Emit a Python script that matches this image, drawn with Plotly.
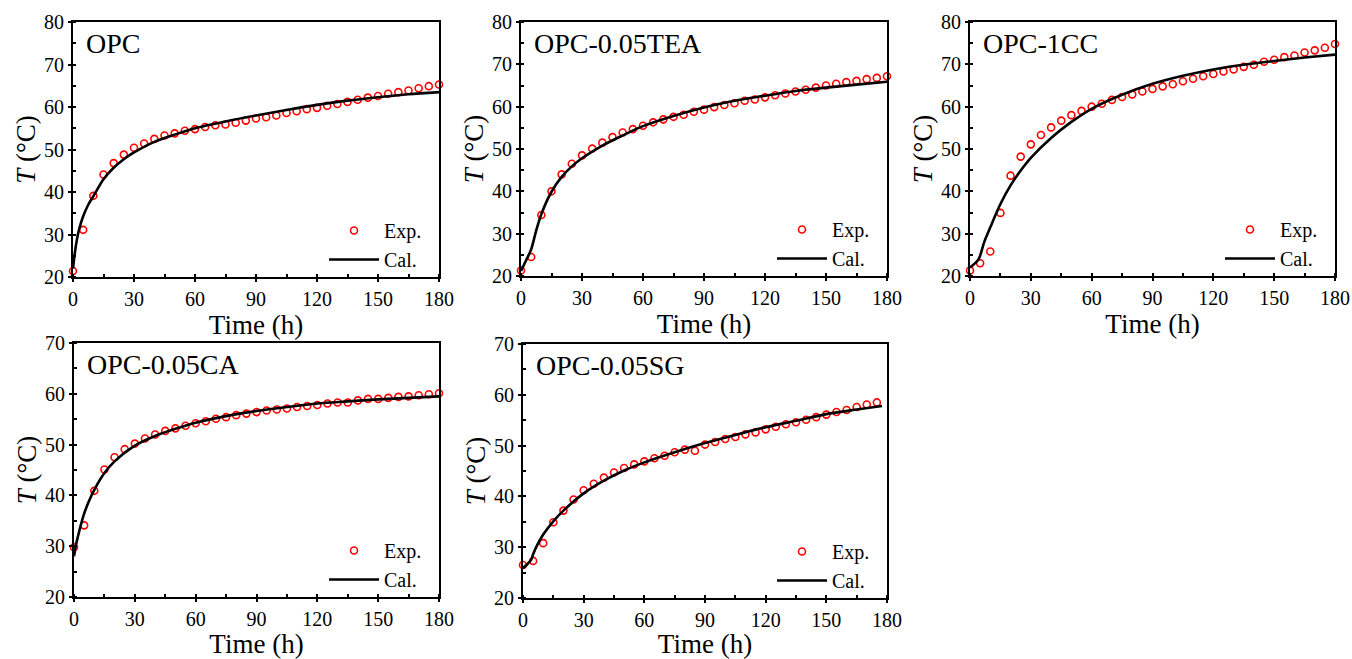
import plotly.graph_objects as go

# ---------------- data ----------------
t_exp = [0, 5, 10, 15, 20, 25, 30, 35, 40, 45, 50, 55, 60, 65, 70, 75, 80, 85, 90,
         95, 100, 105, 110, 115, 120, 125, 130, 135, 140, 145, 150, 155, 160, 165,
         170, 175, 180]
t_exp_sg = [0, 5, 10, 15, 20, 25, 30, 35, 40, 45, 50, 55, 60, 65, 70, 75, 80, 85, 90,
            95, 100, 105, 110, 115, 120, 125, 130, 135, 140, 145, 150, 155, 160, 165,
            170, 175]

opc_exp = [21.4, 31.1, 39.1, 44.1, 46.8, 48.8, 50.4, 51.4, 52.5, 53.3, 53.8, 54.4, 54.8,
           55.3, 55.7, 55.9, 56.3, 56.8, 57.3, 57.6, 58.0, 58.6, 59.0, 59.5, 59.8, 60.3,
           60.7, 61.2, 61.7, 62.2, 62.6, 63.1, 63.5, 63.9, 64.4, 64.9, 65.3]
tea_exp = [21.3, 24.5, 34.4, 40.0, 44.0, 46.5, 48.5, 50.1, 51.5, 52.8, 53.9, 54.7, 55.5,
           56.3, 57.0, 57.6, 58.1, 58.8, 59.3, 59.9, 60.4, 60.8, 61.4, 61.7, 62.2, 62.7,
           63.1, 63.6, 64.0, 64.5, 65.0, 65.4, 65.8, 66.1, 66.5, 66.8, 67.2]
cc_exp = [21.3, 23.0, 25.8, 34.9, 43.7, 48.2, 51.1, 53.3, 55.1, 56.7, 58.0, 59.0, 60.0,
          60.7, 61.6, 62.3, 62.9, 63.6, 64.2, 64.8, 65.3, 66.0, 66.6, 67.2, 67.7, 68.3,
          68.8, 69.4, 69.9, 70.6, 71.1, 71.7, 72.1, 72.8, 73.3, 73.9, 74.8]
ca_exp = [29.8, 34.1, 40.9, 45.1, 47.5, 49.1, 50.2, 51.2, 52.0, 52.7, 53.2, 53.7, 54.2,
          54.6, 55.1, 55.4, 55.8, 56.1, 56.4, 56.7, 56.9, 57.1, 57.4, 57.6, 57.8, 58.1,
          58.3, 58.3, 58.7, 59.0, 59.0, 59.2, 59.4, 59.5, 59.7, 59.9, 60.1]
sg_exp = [26.5, 27.3, 30.8, 34.9, 37.2, 39.4, 41.2, 42.5, 43.7, 44.7, 45.6, 46.3, 46.9,
          47.5, 48.0, 48.7, 49.2, 49.0, 50.2, 50.7, 51.3, 51.7, 52.2, 52.6, 53.2, 53.7,
          54.2, 54.6, 55.1, 55.6, 56.1, 56.6, 57.0, 57.6, 58.1, 58.5]

opc_cal_t = [0, 1, 2, 3, 5, 7.5, 10, 15, 20, 25, 30, 40, 50, 60, 75, 90, 105, 120, 135, 150, 165, 180]
opc_cal = [22.0, 26.0, 29.0, 31.2, 34.3, 37.0, 39.0, 43.0, 45.7, 47.7, 49.3, 51.8, 53.5,
           55.0, 56.6, 58.0, 59.3, 60.5, 61.5, 62.3, 63.0, 63.5]
tea_cal_t = [0, 2, 5, 7.5, 10, 15, 20, 25, 30, 40, 50, 60, 75, 90, 105, 120, 135, 150, 165, 180]
tea_cal = [21.2, 23.2, 26.3, 30.8, 34.6, 39.9, 43.4, 45.9, 47.8, 50.8, 53.2, 55.4, 57.8,
           59.8, 61.4, 62.6, 63.7, 64.5, 65.2, 65.9]
cc_cal_t = [0, 2, 4, 5, 7, 10, 15, 20, 25, 30, 40, 50, 60, 75, 90, 105, 120, 135, 150, 165, 180]
cc_cal = [22.0, 22.8, 23.8, 24.8, 28.0, 31.5, 37.0, 41.4, 44.9, 47.9, 52.6, 56.4, 59.5,
          62.8, 65.4, 67.3, 68.8, 69.9, 70.8, 71.6, 72.3]
ca_cal_t = [0, 1, 2, 3, 5, 7.5, 10, 15, 20, 30, 40, 50, 60, 75, 90, 105, 120, 135, 150, 165, 180]
ca_cal = [28.0, 30.3, 32.0, 33.6, 36.4, 39.0, 41.1, 44.4, 46.7, 49.8, 51.7, 53.1, 54.3,
          55.6, 56.6, 57.4, 58.1, 58.5, 58.9, 59.2, 59.5]
sg_cal_t = [0, 2, 4, 5, 7, 10, 15, 20, 30, 40, 50, 60, 75, 90, 105, 120, 135, 150, 165, 177.5]
sg_cal = [25.9, 26.6, 27.5, 28.6, 30.4, 32.5, 35.1, 37.2, 40.6, 43.1, 45.1, 46.7, 48.7,
          50.5, 52.1, 53.6, 54.9, 56.2, 57.1, 57.8]

panel_names = ["OPC", "OPC-0.05TEA", "OPC-1CC", "OPC-0.05CA", "OPC-0.05SG"]
x_ticks = [0, 30, 60, 90, 120, 150, 180]
y_ranges = [[20, 80], [20, 80], [20, 80], [20, 70], [20, 70]]

series = [
    (t_exp, opc_exp, opc_cal_t, opc_cal),
    (t_exp, tea_exp, tea_cal_t, tea_cal),
    (t_exp, cc_exp, cc_cal_t, cc_cal),
    (t_exp, ca_exp, ca_cal_t, ca_cal),
    (t_exp_sg, sg_exp, sg_cal_t, sg_cal),
]

# ---------------- layout (pixel boxes of the plot areas) ----------------
W, H = 1352, 659
boxes = [(73, 439, 22, 277), (521, 887, 22, 276), (970, 1335, 22, 276),
         (74, 439, 343, 597), (523, 887, 344, 598)]

FONT = "Liberation Serif"
fig = go.Figure()
layout = dict(width=W, height=H, margin=dict(l=0, r=0, t=0, b=0),
              paper_bgcolor="white", plot_bgcolor="white",
              font=dict(family=FONT, color="black"), showlegend=True,
              annotations=[])

for i, (name, (te, ye, tc, yc), box, yr) in enumerate(zip(panel_names, series, boxes, y_ranges)):
    k = "" if i == 0 else str(i + 1)
    xa, ya = "x" + k, "y" + k
    leg = "legend" + k
    x0, x1, y0, y1 = box
    axis_common = dict(showline=True, linecolor="black", linewidth=2, mirror=True,
                       ticks="outside", ticklen=3, tickwidth=1.5, tickcolor="black",
                       showgrid=False, zeroline=False, automargin=False,
                       tickfont=dict(family=FONT, size=20, color="black"))
    layout["xaxis" + k] = dict(axis_common, domain=[x0 / W, x1 / W], anchor=ya,
                               range=[0, 180], tickvals=x_ticks,
                               minor=dict(dtick=15, tick0=0, ticks="inside", ticklen=3,
                                          tickwidth=1.5, tickcolor="black"),
                               title=dict(text="Time (h)", font=dict(family=FONT, size=27),
                                          standoff=0))
    layout["yaxis" + k] = dict(axis_common, domain=[1 - y1 / H, 1 - y0 / H], anchor=xa,
                               range=yr, dtick=10, tick0=20,
                               minor=dict(dtick=5, tick0=20, ticks="inside", ticklen=3,
                                          tickwidth=1.5, tickcolor="black"),
                               title=dict(text="<i>T</i> (°C)", font=dict(family=FONT, size=27),
                                          standoff=1))
    layout[leg] = dict(x=(x1 - 12) / W, y=1 - (y1 + 2) / H, xanchor="right", yanchor="bottom",
                       bgcolor="rgba(0,0,0,0)", borderwidth=0,
                       font=dict(family=FONT, size=20, color="black"),
                       traceorder="normal", itemwidth=50)
    layout["annotations"].append(dict(text=name, xref=xa + " domain", yref=ya + " domain",
                                      x=0.03, y=0.985, xanchor="left", yanchor="top",
                                      showarrow=False, font=dict(family=FONT, size=28, color="black")))

    fig.add_trace(go.Scatter(x=te, y=ye, mode="markers", name="Exp.", xaxis=xa, yaxis=ya,
                             legend=leg, cliponaxis=False,
                             marker=dict(symbol="circle-open", size=7, color="red",
                                         line=dict(width=1.6, color="red"))))
    fig.add_trace(go.Scatter(x=tc, y=yc, mode="lines", name="Cal.", xaxis=xa, yaxis=ya,
                             legend=leg, line=dict(color="black", width=2.6, shape="spline",
                                                   smoothing=0.8)))

fig.update_layout(**layout)
fig.write_html("out.html", config={"displayModeBar": False},
               post_script="document.body.style.margin='0px';document.body.style.overflow='hidden';")
